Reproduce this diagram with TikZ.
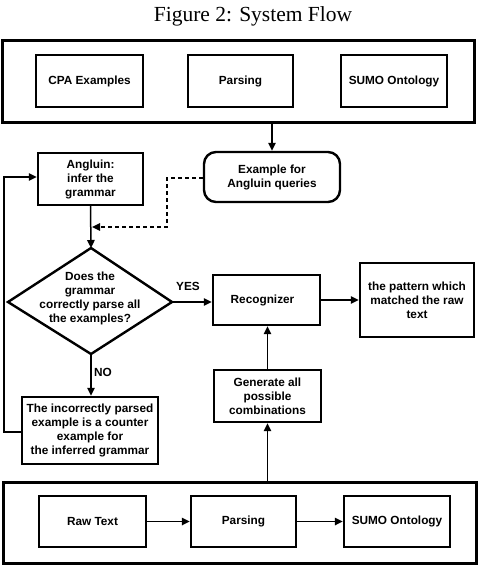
\documentclass[tikz,border=0pt]{standalone}
\usepackage{fontspec}
\setmainfont{Liberation Serif}
\newfontfamily\hv{Liberation Sans}
\usetikzlibrary{arrows.meta,calc}
\begin{document}
\begin{tikzpicture}[x=1pt,y=-1pt,
  box/.style={draw,line width=2.4pt,minimum width=#1,inner sep=0pt,align=center,font=\hv\bfseries\fontsize{11.8}{14}\selectfont},
  outer/.style={draw,line width=3pt,inner sep=0pt},
  arr/.style={line width=1.5pt,-{Triangle[length=8pt,width=7.5pt]}},
  lab/.style={font=\hv\bfseries\fontsize{11.8}{14}\selectfont,inner sep=0pt}]
\useasboundingbox (0,0) rectangle (485,567);
\node[font=\fontsize{21.5}{24}\selectfont,inner sep=0pt] (title) at (253,16) {Figure 2: System Flow};
% top group
\node[outer,minimum width=472,minimum height=82] (topbox) at (238,82) {};
\node[box=107,minimum height=52] (cpa) at (89.5,81) {CPA Examples};
\node[box=105,minimum height=52] (parse1) at (240.5,81) {Parsing};
\node[box=106,minimum height=52] (sumo1) at (394,81) {SUMO Ontology};
% middle
\node[box=136,minimum height=50,rounded corners=12pt] (example) at (272,177) {Example for\\Angluin queries};
\node[box=105,minimum height=52] (angluin) at (90.5,179) {Angluin:\\infer the\\grammar};
\coordinate (dtop) at (91,248);
\coordinate (dright) at (172,302);
\coordinate (dbot) at (91,354);
\coordinate (dleft) at (8,302);
\draw[line width=2.4pt] (dtop) -- (dright) -- (dbot) -- (dleft) -- cycle;
\node[lab,align=center] (dq) at (90,298.5) {Does the\\grammar\\correctly parse all\\the examples?};
\node[box=107,minimum height=50] (recog) at (266.5,300) {Recognizer\hspace{8pt}};
\node[box=114,minimum height=74] (pattern) at (417,300) {the pattern which\\matched the raw\\text};
\node[box=107,minimum height=52] (gen) at (267.5,396) {Generate all\\possible\\combinations};
\node[box=136,minimum height=67] (counter) at (90,430.5) {The incorrectly parsed\\example is a counter\\example for\\the inferred grammar};
% bottom group
\node[outer,minimum width=473,minimum height=81] (botbox) at (239.5,522.5) {};
\node[box=107,minimum height=51] (raw) at (92.5,521.5) {Raw Text};
\node[box=105,minimum height=51] (parse2) at (243.5,521.5) {Parsing};
\node[box=106,minimum height=51] (sumo2) at (397,521.5) {SUMO Ontology};
% connectors
\draw[arr] (example.north |- topbox.south) -- (example.north);
\draw[arr] (angluin.south) -- (dtop);
\coordinate (dk) at (167,178);
\coordinate (dj) at (92,227);
\draw[line width=1.5pt,dash pattern=on 4pt off 3pt,-{Triangle[length=8pt,width=7.5pt]}] (example.west |- dk) -- (dk) |- (dj);
\draw[arr] (dright) -- (recog.west |- dright);
\node[lab] (yes) at (188,286) {YES};
\draw[arr] (dbot) -- (counter.north -| dbot);
\node[lab] (no) at (103,372) {NO};
\coordinate (fb) at (4,432);
\draw[arr] (counter.west |- fb) -- (fb) |- (angluin.west |- 0,177);
\draw[arr] (recog.east) -- (pattern.west |- recog.east);
\draw[arr] (gen.north) -- (gen.north |- recog.south);
\draw[arr] (gen.south |- botbox.north) -- (gen.south);
\draw[arr] (raw.east) -- (parse2.west);
\draw[arr] (parse2.east) -- (sumo2.west);
\end{tikzpicture}
\end{document}
